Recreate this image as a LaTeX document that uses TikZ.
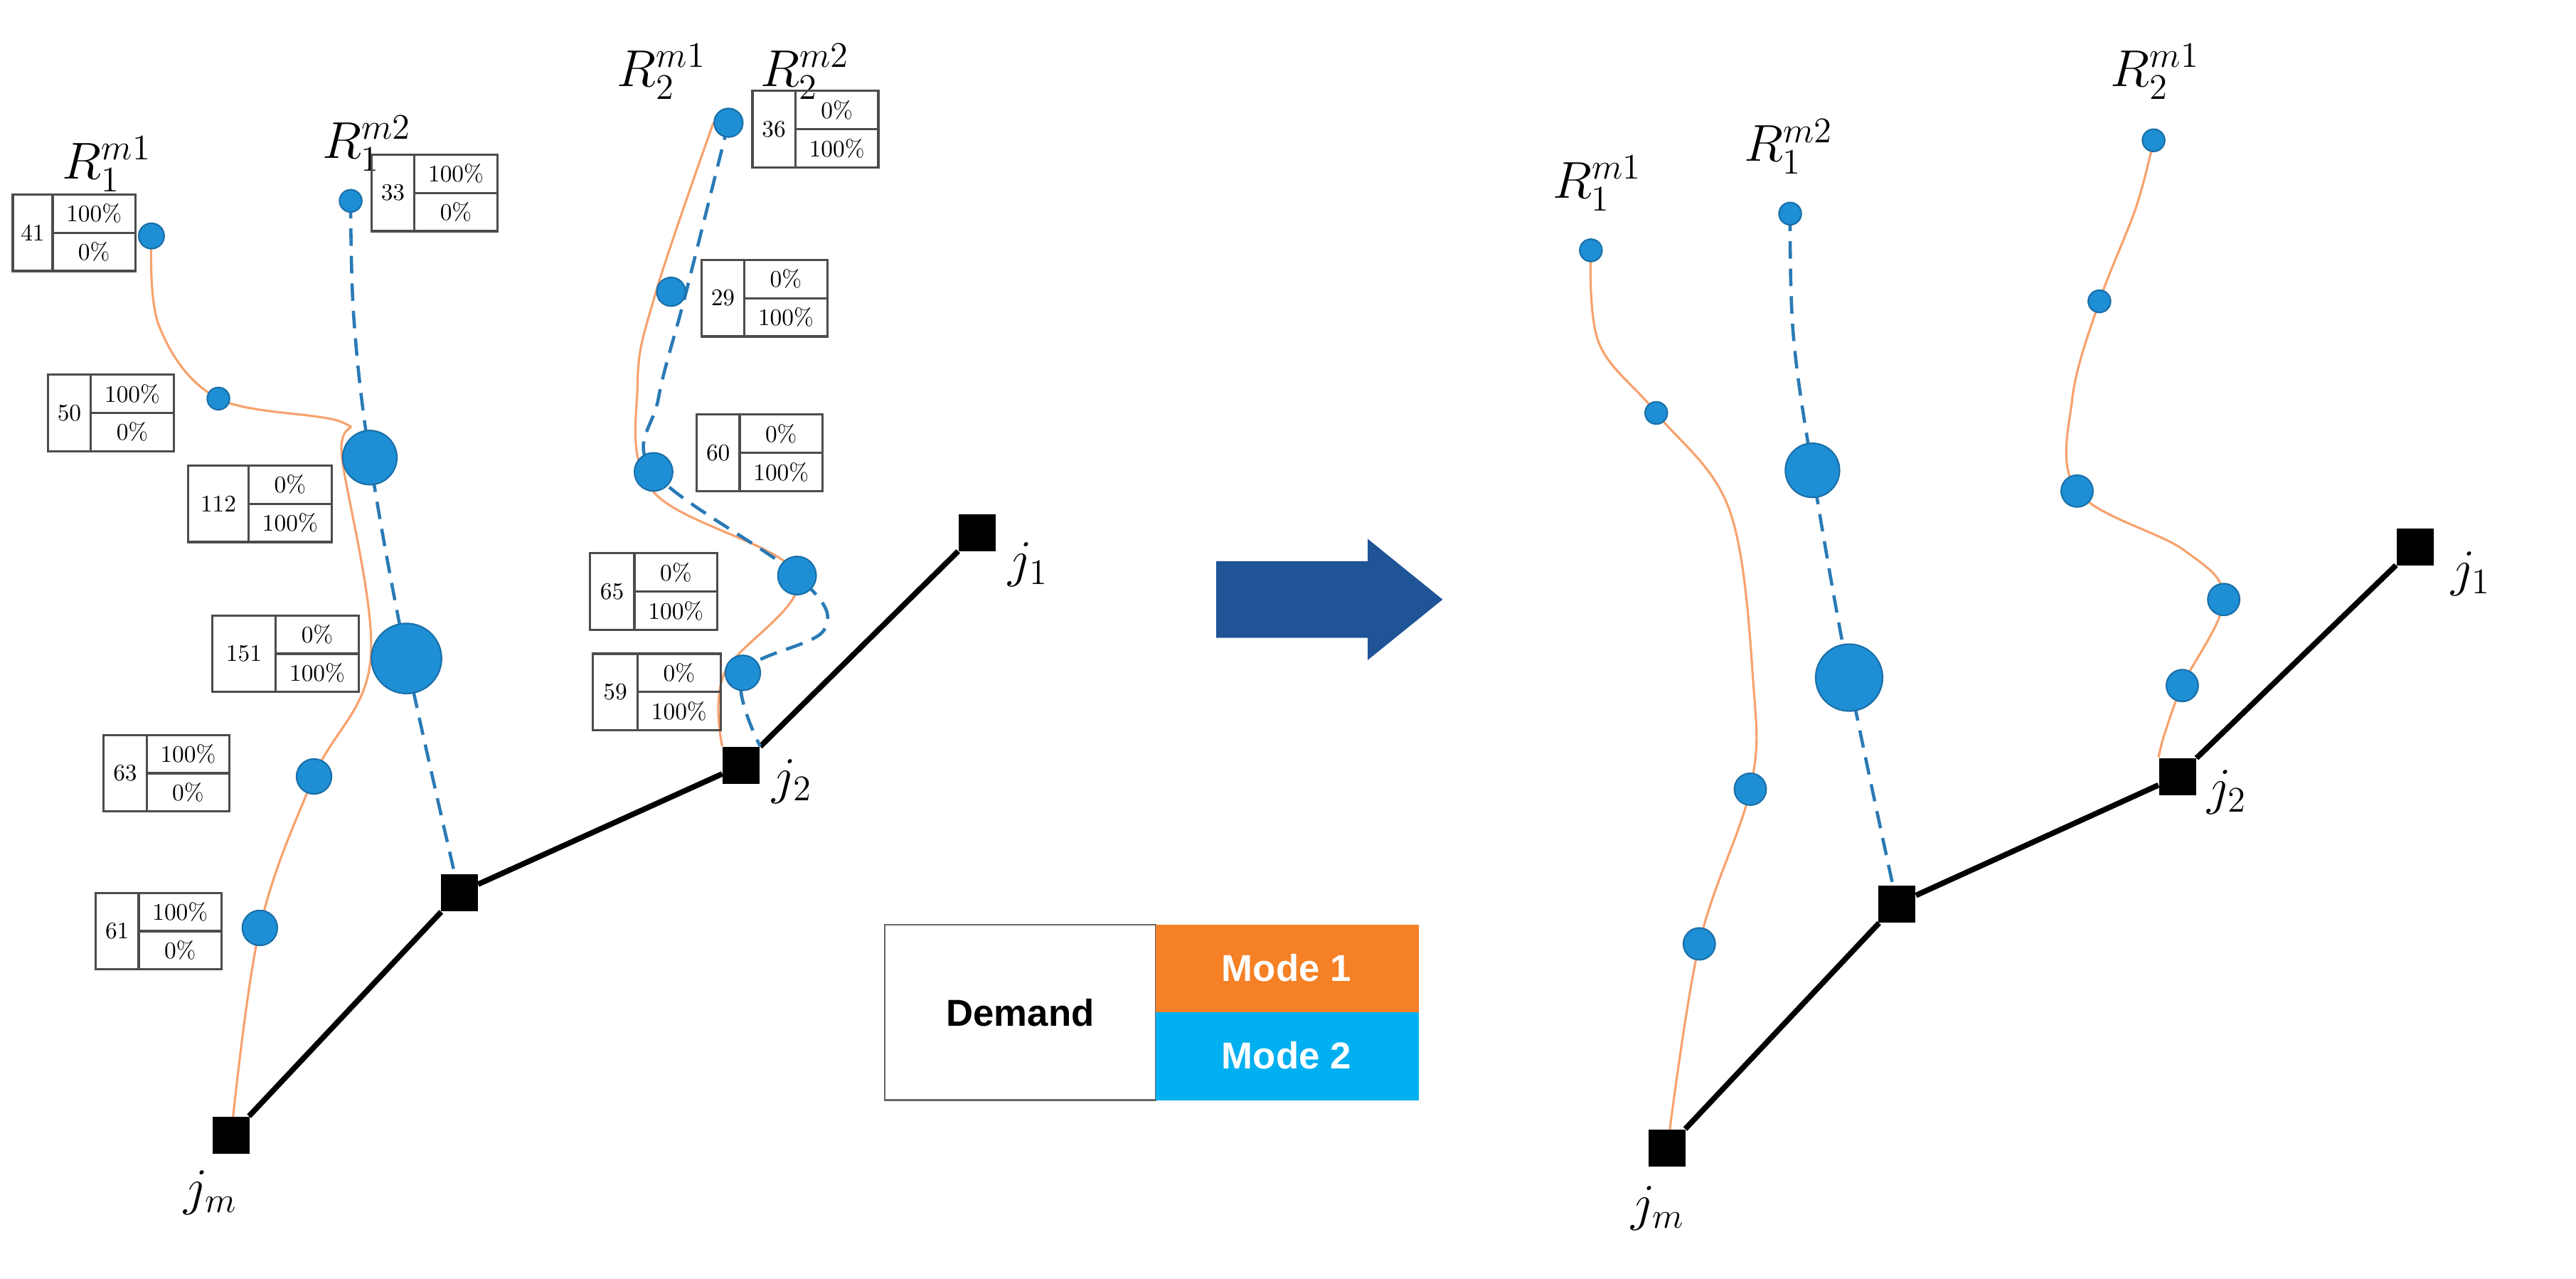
\documentclass[tikz,border=0pt]{standalone}
\usepackage{fontspec}
\newfontfamily\lsans{Liberation Sans}
\usetikzlibrary{backgrounds}
\definecolor{nodeblue}{HTML}{1E8FD5}
\definecolor{nodeedge}{HTML}{1A6FA8}
\definecolor{rorange}{HTML}{F7A26E}
\definecolor{rblue}{HTML}{2A7AB6}
\definecolor{arrblue}{HTML}{1F5496}
\definecolor{modeorange}{HTML}{F58025}
\definecolor{modecyan}{HTML}{00B0F0}
\tikzset{
  x=0.02241cm, y=-0.02241cm,
  dot/.style={circle, fill=nodeblue, draw=nodeedge, line width=0.6pt, inner sep=0pt, minimum size=#1*0.04482cm},
  sq/.style={rectangle, fill=black, inner sep=0pt, minimum size=0.52cm},
  road/.style={line width=2.2pt, black},
  m1/.style={rorange, line width=0.9pt},
  m2/.style={rblue, line width=1.3pt, dash pattern=on 7pt off 4pt},
  tabline/.style={draw=black!70, line width=0.9pt},
  tabtxt/.style={font=\fontsize{9.5}{10}\selectfont, inner sep=0pt},
  rlab/.style={font=\fontsize{22}{24}\selectfont, inner sep=0pt},
  jlab/.style={font=\fontsize{20}{22}\selectfont, inner sep=0pt},
  legtxt/.style={font=\lsans\bfseries\fontsize{15}{17}\selectfont}
}
\newcommand\ptab[7]{%
  \draw[tabline] (#2,#3) rectangle (#2+#4+52,#3+48);
  \draw[tabline] (#2+#4,#3) -- (#2+#4,#3+48);
  \draw[tabline] (#2+#4,#3+24) -- (#2+#4+52,#3+24);
  \node[tabtxt] (#1n) at (#2+#4/2,#3+24) {#5};
  \node[tabtxt] (#1t) at (#2+#4+26,#3+12) {#6};
  \node[tabtxt] (#1b) at (#2+#4+26,#3+36) {#7};
}
\begin{document}
\begin{tikzpicture}
\useasboundingbox (0,0) rectangle (1616,802);
% ---------- left panel ----------
\node[sq] (Ljm) at (145,712) {};
\node[sq] (Lmid) at (288,560) {};
\node[sq] (Lj2) at (465,480) {};
\node[sq] (Lj1) at (613,334) {};
\node[jlab] (Ljml) at (132,748) {$j_m$};
\node[jlab] (Lj2l) at (497,490) {$j_2$};
\node[jlab] (Lj1l) at (645,354) {$j_1$};

\node[dot=8] (a41) at (95,148) {};
\node[dot=7] (a50) at (137,250) {};
\node[dot=17] (a112) at (232,287) {};
\node[dot=22] (a151) at (255,413) {};
\node[dot=11] (a63) at (197,487) {};
\node[dot=11] (a61) at (163,582) {};
\node[dot=7] (a33) at (220,126) {};
\node[dot=9] (b36) at (457,77) {};
\node[dot=9] (b29) at (421,183) {};
\node[dot=12] (b60) at (410,296) {};
\node[dot=12] (b65) at (500,361) {};
\node[dot=11] (b59) at (466,422) {};
\coordinate (c1) at (215,265);
\coordinate (c2) at (400,240);
\coordinate (c3) at (517,395);

\begin{scope}[on background layer]
\draw[road] (Ljm) -- (Lmid) -- (Lj2) -- (Lj1);
\draw[m1] plot[smooth, tension=0.6] coordinates {(a41) (100,205) (a50) (c1) (a112.west) (a151.west) (a63) (a61) (Ljm)};
\draw[m2] plot[smooth, tension=0.6] coordinates {(a33) (222,200) (a112) (a151) (Lmid)};
\draw[m1] plot[smooth, tension=0.6] coordinates {(b36.west) (b29.west) (c2) (b60.south) (b65) (b59.west) (Lj2.north west)};
\draw[m2] plot[smooth, tension=0.6] coordinates {(b36) (b29.east) (413,250) (b60) (b65) (c3) (b59) (Lj2.north east)};
\end{scope}

\node[rlab] (R11) at (67,103) {$R_1^{m1}$};
\node[rlab] (R12) at (230,90) {$R_1^{m2}$};
\node[rlab] (R21) at (415,45) {$R_2^{m1}$};
\node[rlab] (R22) at (505,45) {$R_2^{m2}$};

\ptab{t41}{8}{122}{25}{41}{100\%}{0\%}
\ptab{t33}{233}{97}{27}{33}{100\%}{0\%}
\ptab{t50}{30}{235}{27}{50}{100\%}{0\%}
\ptab{t112}{118}{292}{38}{112}{0\%}{100\%}
\ptab{t151}{133}{386}{40}{151}{0\%}{100\%}
\ptab{t63}{65}{461}{27}{63}{100\%}{0\%}
\ptab{t61}{60}{560}{27}{61}{100\%}{0\%}
\ptab{t36}{472}{57}{27}{36}{0\%}{100\%}
\ptab{t29}{440}{163}{27}{29}{0\%}{100\%}
\ptab{t60}{437}{260}{27}{60}{0\%}{100\%}
\ptab{t65}{370}{347}{28}{65}{0\%}{100\%}
\ptab{t59}{372}{410}{28}{59}{0\%}{100\%}

% ---------- arrow ----------
\fill[arrblue] (763,352) -- (858,352) -- (858,338) -- (905,376) -- (858,414) -- (858,400) -- (763,400) -- cycle;

% ---------- legend ----------
\draw[draw=black!60, line width=0.8pt, fill=white] (555,580) rectangle (725,690);
\fill[modeorange] (725,580) rectangle (890,635);
\fill[modecyan] (725,635) rectangle (890,690);
\node[legtxt] (dem) at (640,635) {Demand};
\node[legtxt, text=white] (mo1) at (807,607) {Mode 1};
\node[legtxt, text=white] (mo2) at (807,662) {Mode 2};

% ---------- right panel ----------
\node[sq] (Rjm) at (1046,720) {};
\node[sq] (Rmid) at (1190,567) {};
\node[sq] (Rj2) at (1366,487) {};
\node[sq] (Rj1) at (1515,343) {};
\node[jlab] (Rjml) at (1040,758) {$j_m$};
\node[jlab] (Rj2l) at (1397,497) {$j_2$};
\node[jlab] (Rj1l) at (1550,360) {$j_1$};

\node[dot=7] (p1) at (998,157) {};
\node[dot=7] (p2) at (1039,259) {};
\node[dot=10] (p3) at (1098,495) {};
\node[dot=10] (p4) at (1066,592) {};
\node[dot=7] (q1) at (1123,134) {};
\node[dot=17] (q2) at (1137,295) {};
\node[dot=21] (q3) at (1160,425) {};
\node[dot=7] (s1) at (1351,88) {};
\node[dot=7] (s2) at (1317,189) {};
\node[dot=10] (s3) at (1303,308) {};
\node[dot=10] (s4) at (1395,376) {};
\node[dot=10] (s5) at (1369,430) {};

\begin{scope}[on background layer]
\draw[road] (Rjm) -- (Rmid) -- (Rj2) -- (Rj1);
\draw[m1] plot[smooth, tension=0.6] coordinates {(p1) (1003,215) (p2) (1085,320) (1100,430) (p3) (p4) (Rjm)};
\draw[m2] plot[smooth, tension=0.6] coordinates {(q1) (1125,210) (q2) (q3) (Rmid)};
\draw[m1] plot[smooth, tension=0.6] coordinates {(s1) (1340,130) (s2) (1300,250) (s3) (1370,345) (s4) (s5) (1358,460) (Rj2.north west)};
\end{scope}

\node[rlab] (RR11) at (1002,115) {$R_1^{m1}$};
\node[rlab] (RR12) at (1122,92) {$R_1^{m2}$};
\node[rlab] (RR21) at (1352,45) {$R_2^{m1}$};
\end{tikzpicture}
\end{document}
